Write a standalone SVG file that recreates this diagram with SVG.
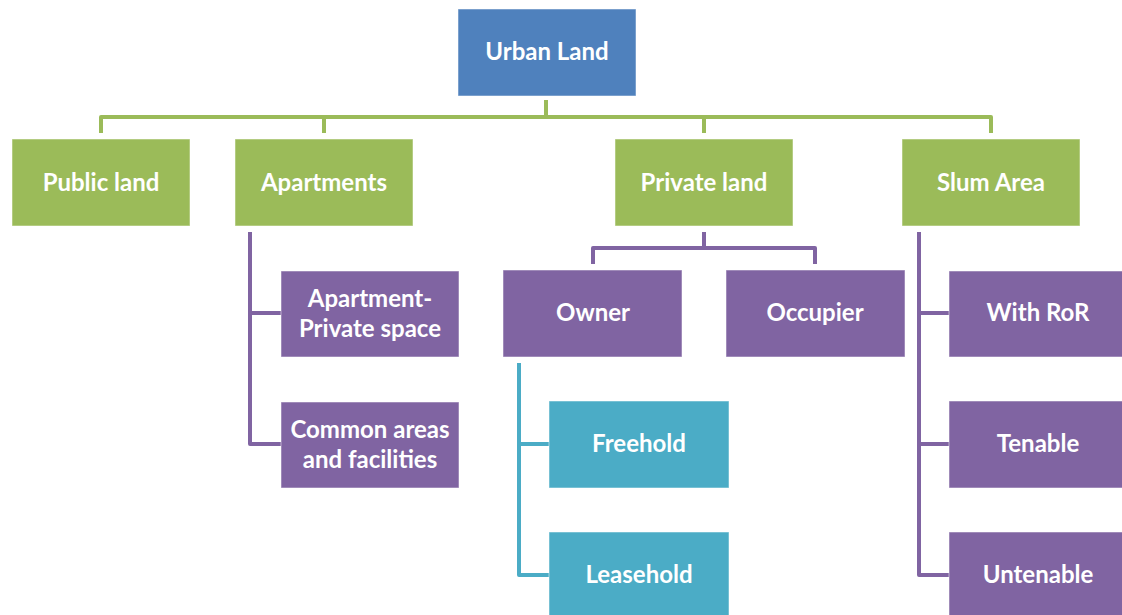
<svg xmlns="http://www.w3.org/2000/svg" width="1122" height="615" viewBox="0 0 1122 615">
  <style>
    .box { stroke: #ffffff; stroke-opacity: 0.5; stroke-width: 1; }
    .blue { fill: #4F81BD; }
    .green { fill: #9BBB59; }
    .purple { fill: #8064A2; }
    .teal { fill: #4BACC6; }
    .lbl { font-family: "Lato", "Open Sans", "Liberation Sans", sans-serif; font-weight: bold; font-size: 24px; fill: #ffffff; text-anchor: middle; }
    .wire { fill: none; stroke-width: 4; stroke-linejoin: round; stroke-linecap: butt; }
    .g { stroke: #9BBB59; }
    .p { stroke: #8064A2; }
    .t { stroke: #4BACC6; }
  </style>

  <!-- connectors -->
  <g id="connectors">
    <path class="wire g" d="M546,100 V117"/>
    <path class="wire g" d="M101,133 V117 H991 V133"/>
    <path class="wire g" d="M324,117 V133"/>
    <path class="wire g" d="M704,117 V133"/>

    <path class="wire p" d="M250,232 V444 H281"/>
    <path class="wire p" d="M250,313 H281"/>

    <path class="wire p" d="M704,232 V248"/>
    <path class="wire p" d="M593,264 V248 H815 V264"/>

    <path class="wire t" d="M519,363 V575 H549"/>
    <path class="wire t" d="M519,444 H549"/>

    <path class="wire p" d="M919,232 V575 H949"/>
    <path class="wire p" d="M919,313 H949"/>
    <path class="wire p" d="M919,444 H949"/>
  </g>

  <g id="urban-land">
    <rect class="box blue" x="458" y="9" width="178" height="87"/>
    <text class="lbl" x="547" y="60">Urban Land</text>
  </g>

  <g id="public-land">
    <rect class="box green" x="12" y="139" width="178" height="87"/>
    <text class="lbl" x="101" y="191">Public land</text>
  </g>
  <g id="apartments">
    <rect class="box green" x="235" y="139" width="178" height="87"/>
    <text class="lbl" x="324" y="191">Apartments</text>
  </g>
  <g id="private-land">
    <rect class="box green" x="615" y="139" width="178" height="87"/>
    <text class="lbl" x="704" y="191">Private land</text>
  </g>
  <g id="slum-area">
    <rect class="box green" x="902" y="139" width="178" height="87"/>
    <text class="lbl" x="991" y="191">Slum Area</text>
  </g>

  <g id="apartment-private-space">
    <rect class="box purple" x="281" y="271" width="178" height="86"/>
    <text class="lbl" x="370" y="307">Apartment-</text>
    <text class="lbl" x="370" y="337">Private space</text>
  </g>
  <g id="common-areas">
    <rect class="box purple" x="281" y="402" width="178" height="86"/>
    <text class="lbl" x="370" y="438">Common areas</text>
    <text class="lbl" x="370" y="468">and facilities</text>
  </g>

  <g id="owner">
    <rect class="box purple" x="503" y="270" width="179" height="87"/>
    <text class="lbl" x="593" y="321">Owner</text>
  </g>
  <g id="occupier">
    <rect class="box purple" x="726" y="270" width="179" height="87"/>
    <text class="lbl" x="815" y="321">Occupier</text>
  </g>

  <g id="freehold">
    <rect class="box teal" x="549" y="401" width="180" height="87"/>
    <text class="lbl" x="639" y="452">Freehold</text>
  </g>
  <g id="leasehold">
    <rect class="box teal" x="549" y="532" width="180" height="90"/>
    <text class="lbl" x="639" y="583">Leasehold</text>
  </g>

  <g id="with-ror">
    <rect class="box purple" x="949" y="271" width="178" height="86"/>
    <text class="lbl" x="1038" y="321">With RoR</text>
  </g>
  <g id="tenable">
    <rect class="box purple" x="949" y="401" width="178" height="87"/>
    <text class="lbl" x="1038" y="452">Tenable</text>
  </g>
  <g id="untenable">
    <rect class="box purple" x="949" y="532" width="178" height="90"/>
    <text class="lbl" x="1038" y="583">Untenable</text>
  </g>
</svg>
